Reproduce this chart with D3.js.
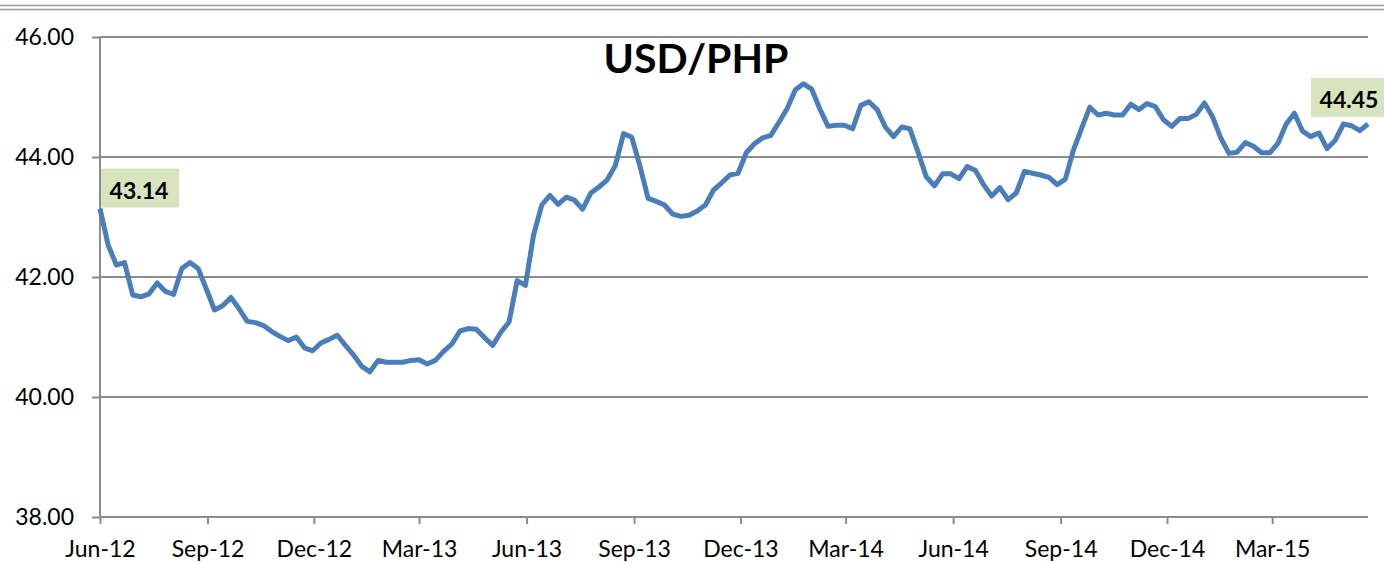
<!DOCTYPE html>
<html>
<head>
<meta charset="utf-8">
<script src="https://cdn.jsdelivr.net/npm/d3@7"></script>
<style>
  body { margin: 0; background: #fff; }
  svg { display: block; font-family: Lato, "Open Sans", sans-serif; }
</style>
</head>
<body>
<div id="chart"></div>
<script>
// weekly USD/PHP closes, first week = Jun 1 2012
const startDate = "2012-06-01";
const rates = [
  43.14, 42.53, 42.20, 42.24, 41.70, 41.67, 41.72, 41.90, 41.76, 41.71,
  42.14, 42.24, 42.14, 41.80, 41.45, 41.52, 41.66, 41.47, 41.26, 41.24,
  41.19, 41.09, 41.01, 40.94, 41.00, 40.82, 40.77, 40.90, 40.96, 41.03,
  40.86, 40.70, 40.51, 40.42, 40.61, 40.58, 40.58, 40.58, 40.61, 40.62,
  40.55, 40.61, 40.76, 40.88, 41.10, 41.14, 41.13, 40.99, 40.86, 41.08,
  41.25, 41.94, 41.86, 42.70, 43.20, 43.36, 43.21, 43.33, 43.28, 43.13,
  43.40, 43.50, 43.62, 43.86, 44.39, 44.33, 43.85, 43.31, 43.26, 43.20,
  43.05, 43.01, 43.03, 43.10, 43.20, 43.45, 43.57, 43.70, 43.73, 44.07,
  44.22, 44.32, 44.36, 44.58, 44.81, 45.12, 45.22, 45.13, 44.80, 44.51,
  44.53, 44.53, 44.47, 44.86, 44.92, 44.79, 44.50, 44.34, 44.50, 44.47,
  44.08, 43.67, 43.52, 43.72, 43.72, 43.64, 43.84, 43.78, 43.54, 43.35,
  43.49, 43.29, 43.40, 43.76, 43.73, 43.70, 43.66, 43.54, 43.63, 44.12,
  44.48, 44.83, 44.70, 44.73, 44.70, 44.70, 44.88, 44.79, 44.89, 44.84,
  44.62, 44.51, 44.64, 44.64, 44.71, 44.90, 44.67, 44.32, 44.06, 44.08,
  44.24, 44.18, 44.07, 44.07, 44.23, 44.55, 44.73, 44.43, 44.34, 44.40,
  44.14, 44.28, 44.55, 44.52, 44.44, 44.55
];
const yTicks = [38, 40, 42, 44, 46];
const xTickLabels = ["Jun-12", "Sep-12", "Dec-12", "Mar-13", "Jun-13", "Sep-13",
  "Dec-13", "Mar-14", "Jun-14", "Sep-14", "Dec-14", "Mar-15"];
const firstLabel = "43.14";
const lastLabel = "44.45";

const width = 1384, height = 562;
const margin = { top: 37, right: 16, bottom: 45, left: 100 };

const parseDay = d3.utcParse("%Y-%m-%d");
const parseTick = d3.utcParse("%b-%y");
const t0 = parseDay(startDate);
const data = rates.map((v, i) => ({ date: d3.utcDay.offset(t0, 7 * i), value: v }));

const x = d3.scaleUtc()
  .domain([t0, data[data.length - 1].date])
  .range([margin.left, width - margin.right]);
const y = d3.scaleLinear()
  .domain([38, 46])
  .range([height - margin.bottom, margin.top]);

const svg = d3.select("#chart").append("svg")
  .attr("width", width)
  .attr("height", height);

// double rule across the top
[5.5, 9.5].forEach(ty => {
  svg.append("line")
    .attr("x1", 0).attr("x2", width)
    .attr("y1", ty).attr("y2", ty)
    .attr("stroke", "#9a9a9a").attr("stroke-width", 1.5);
});

// grid
svg.append("g")
  .selectAll("line")
  .data(yTicks.slice(1))
  .join("line")
  .attr("x1", margin.left).attr("x2", width - margin.right)
  .attr("y1", d => y(d)).attr("y2", d => y(d))
  .attr("stroke", "#8c8c8c").attr("stroke-width", 2);

const yAxis = svg.append("g")
  .attr("transform", `translate(${margin.left},0)`)
  .call(d3.axisLeft(y).tickValues(yTicks).tickFormat(d3.format(".2f")).tickSize(8).tickPadding(18));

const xAxis = svg.append("g")
  .attr("transform", `translate(0,${height - margin.bottom})`)
  .call(d3.axisBottom(x).tickValues(xTickLabels.map(parseTick))
    .tickFormat(d3.utcFormat("%b-%y")).tickSize(7).tickPadding(17));

[yAxis, xAxis].forEach(g => {
  g.select(".domain").attr("stroke", "#8c8c8c").attr("stroke-width", 2);
  g.selectAll(".tick line").attr("stroke", "#8c8c8c").attr("stroke-width", 2);
  g.selectAll("text").attr("font-size", 23).attr("fill", "#000")
    .attr("font-family", "Lato, sans-serif");
});
yAxis.select(".domain").attr("d", `M0,${y(46)}V${y(38)}`);
xAxis.select(".domain").attr("d", `M${margin.left},0H${width - margin.right}`);

// line
svg.append("path")
  .datum(data)
  .attr("fill", "none")
  .attr("stroke", "#4a7ebb")
  .attr("stroke-width", 5)
  .attr("stroke-linejoin", "round")
  .attr("d", d3.line().x(d => x(d.date)).y(d => y(d.value)));

svg.append("text")
  .attr("x", 696).attr("y", 73)
  .attr("text-anchor", "middle")
  .attr("font-size", 41).attr("font-weight", "bold")
  .text("USD/PHP");

// value callouts
const callout = (bx, by, label) => {
  const g = svg.append("g");
  g.append("rect").attr("x", bx).attr("y", by).attr("width", 78).attr("height", 39)
    .attr("fill", "#d7e4bd");
  g.append("text").attr("x", bx + 38).attr("y", by + 30)
    .attr("text-anchor", "middle")
    .attr("font-size", 23).attr("font-weight", "bold")
    .text(label);
};
const first = data[0], last = data[data.length - 1];
callout(x(first.date) + 1, y(first.value) - 40, firstLabel);
callout(x(last.date) - 57, y(last.value) - 46, lastLabel);
</script>
</body>
</html>
